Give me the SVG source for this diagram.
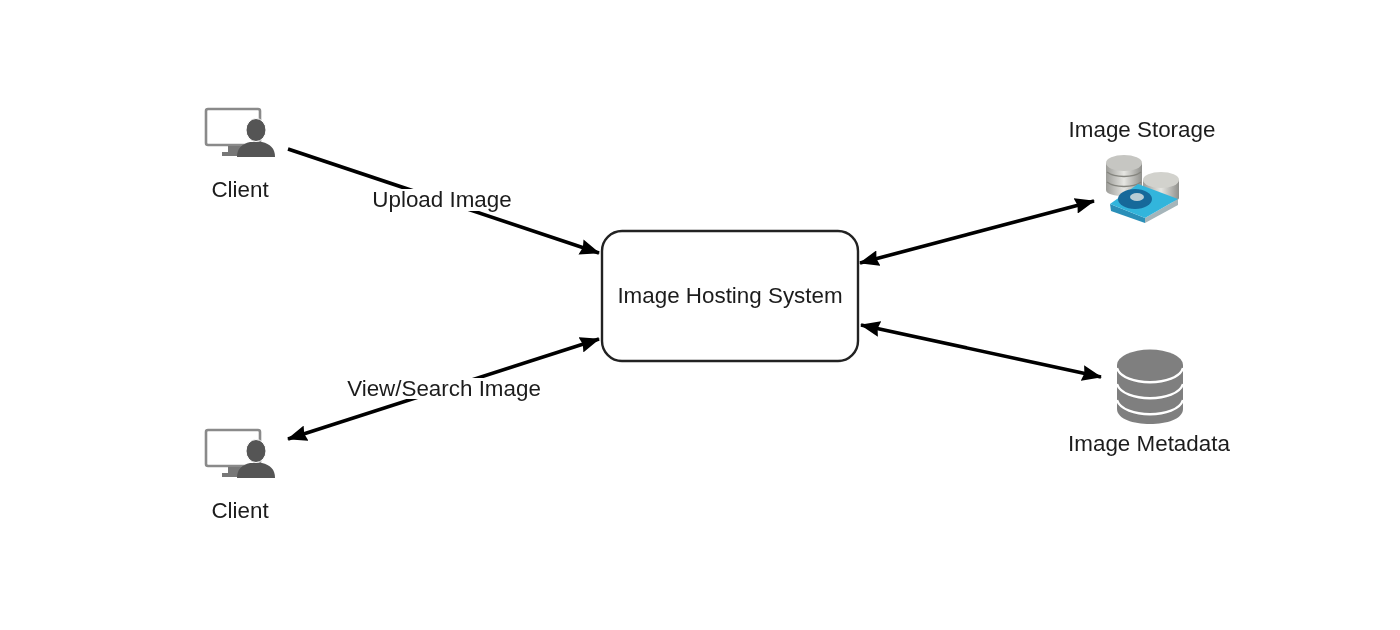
<svg xmlns="http://www.w3.org/2000/svg" width="1400" height="630" viewBox="0 0 1400 630">
<style>
text{font-family:"Liberation Sans",Arial,sans-serif;font-size:22.4px;fill:#1c1c1c;text-anchor:middle}
.c{fill:none;stroke:#000;stroke-width:3.6}
.b{fill:#7f7f7f}
</style>
<defs>
<marker id="a" viewBox="0 0 20 16" refX="19" refY="8" markerWidth="20" markerHeight="16" markerUnits="userSpaceOnUse" orient="auto-start-reverse"><path d="M0 0L20 8L0 16L2 8Z" fill="#000"/></marker>
<filter id="s" x="0" y="0" width="1400" height="630" filterUnits="userSpaceOnUse"><feGaussianBlur stdDeviation="0.55"/></filter>
<linearGradient id="cyl" x1="0" x2="1" y1="0" y2="0"><stop offset="0" stop-color="#9c9c98"/><stop offset=".5" stop-color="#e6e6e2"/><stop offset="1" stop-color="#8f8f8b"/></linearGradient>
<g id="pc">
<rect x="206" y="109" width="54" height="36" rx="2" fill="#fff" stroke="#8a8a8a" stroke-width="2.600"/>
<path d="M228 146h14v5h6v5h-26v-4h6z" fill="#777"/>
<ellipse cx="256" cy="130" rx="10" ry="11.500" fill="#555" stroke="#fff" stroke-width="1"/>
<path d="M237 157c0-9 5-13 13-15h12c8 2 13 6 13 15z" fill="#555"/>
</g>
</defs>
<g filter="url(#s)">
<g id="connectors">
<path class="c" d="M288 149L599 253" marker-end="url(#a)"/>
<path class="c" d="M599 339L288 439" marker-start="url(#a)" marker-end="url(#a)"/>
<path class="c" d="M860 263L1094 201" marker-start="url(#a)" marker-end="url(#a)"/>
<path class="c" d="M861 325L1101 377" marker-start="url(#a)" marker-end="url(#a)"/>
</g>
<g id="system">
<rect x="602" y="231" width="256" height="130" rx="20" fill="#fff" stroke="#222" stroke-width="2.400"/>
<text x="730" y="303">Image Hosting System</text>
</g>
<g id="client-top"><use href="#pc"/><text x="240" y="197">Client</text></g>
<g id="client-bottom"><use href="#pc" y="321"/><text x="240" y="518">Client</text></g>
<g id="upload-label"><rect x="372" y="189" width="140" height="22" fill="#fff"/><text x="442" y="207">Upload Image</text></g>
<g id="view-label"><rect x="348" y="378" width="192" height="21" fill="#fff"/><text x="444" y="396">View/Search Image</text></g>
<g id="image-storage">
<text x="1142" y="137">Image Storage</text>
<path d="M1143 180v18c0 6 36 6 36 0v-18z" fill="url(#cyl)"/>
<ellipse cx="1161" cy="180" rx="18" ry="8" fill="#d2d2cd"/>
<path d="M1106 163v27c0 8 36 8 36 0v-27z" fill="url(#cyl)"/>
<ellipse cx="1124" cy="163" rx="18" ry="8" fill="#c6c6c2"/>
<path d="M1107 172c8 6 26 6 34 0M1107 182c8 6 26 6 34 0" fill="none" stroke="#85857f" stroke-width="1.500"/>
<path d="M1110 204L1145 218L1145 223L1111 211Z" fill="#2a8fb8"/>
<path d="M1145 218L1178 199L1178 205L1145 223Z" fill="#a5b5ba"/>
<path d="M1110 204L1138 184L1178 199L1145 218Z" fill="#33b5dc"/>
<ellipse cx="1135" cy="199" rx="17" ry="10" fill="#17699a"/>
<ellipse cx="1137" cy="197" rx="7" ry="4" fill="#b8ccd4"/>
</g>
<g id="image-metadata">
<path d="M1117 365v44c0 20 66 20 66 0v-44z" class="b"/>
<ellipse cx="1150" cy="365" rx="33" ry="15.500" class="b"/>
<path d="M1117 368c6 19 60 19 66 0M1117 384c6 19 60 19 66 0M1117 400c6 19 60 19 66 0" fill="none" stroke="#fff" stroke-width="2.400"/>
<text x="1149" y="451">Image Metadata</text>
</g>
</g>
</svg>
